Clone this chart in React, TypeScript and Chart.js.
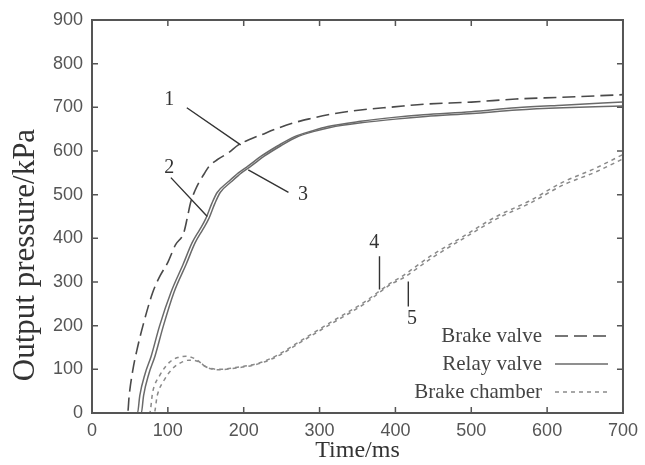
import React, { useEffect, useRef } from "react";
import { Chart, registerables } from "chart.js";

Chart.register(...registerables);

// ---------- data ----------
const brakeValveTime = [0, 47, 49, 54, 60, 67, 80, 90, 100, 110, 121, 126, 130, 136, 141, 148, 154, 165, 180, 193, 210, 223, 245, 267, 290, 311, 354, 398, 437, 500, 559, 620, 700];
const brakeValvePressure = [0, 0, 40, 100, 150, 199, 276, 315, 345, 385, 413, 450, 482, 510, 528, 548, 564, 580, 596, 614, 628, 637, 652, 665, 675, 683, 694, 701, 707, 712, 719, 723, 729];

const relayValve2Time = [0, 60, 63, 70, 78, 89, 104, 120, 132, 142, 150, 158, 165, 180, 193, 206, 223, 245, 267, 290, 311, 354, 398, 437, 500, 559, 620, 700];
const relayValve2Pressure = [0, 0, 40, 90, 130, 199, 276, 340, 390, 420, 445, 480, 505, 530, 550, 566, 588, 612, 633, 646, 656, 668, 677, 683, 690, 699, 705, 712];

const relayValve3Time = [0, 65, 68, 75, 83, 94, 108, 124, 136, 146, 154, 162, 169, 184, 197, 210, 227, 249, 270, 293, 314, 357, 400, 440, 502, 560, 621, 700];
const relayValve3Pressure = [0, 0, 40, 90, 130, 199, 276, 340, 390, 420, 445, 480, 505, 530, 550, 566, 588, 612, 632, 645, 654, 665, 673, 679, 686, 694, 699, 703];

const chamber4Time = [0, 76, 80, 89, 102, 113, 124, 137, 150, 167, 189, 210, 228, 250, 272, 315, 359, 394, 406, 446, 489, 533, 576, 620, 663, 700];
const chamber4Pressure = [0, 0, 48, 85, 116, 127, 130, 123, 106, 100, 104, 110, 119, 138, 162, 208, 254, 298, 310, 359, 404, 450, 485, 528, 560, 592];

const chamber5Time = [0, 82, 86, 95, 107, 118, 128, 140, 152, 168, 190, 211, 229, 251, 273, 316, 360, 395, 408, 448, 490, 534, 577, 621, 664, 700];
const chamber5Pressure = [0, 0, 40, 75, 103, 116, 121, 118, 104, 99, 103, 109, 118, 136, 160, 205, 251, 296, 307, 355, 400, 445, 480, 522, 552, 582];

const legendLabels = ["Brake valve", "Relay valve", "Brake chamber"];
const xTitle = "Time/ms";
const yTitle = "Output pressure/kPa";

// annotation numbers: label position and leader line (data coordinates)
const annotationLabels = ["1", "2", "3", "4", "5"];
const annotationLabelX = [102, 102, 278, 372, 422];
const annotationLabelY = [717, 562, 500, 391, 215];
const annotationFromX = [125, 104, 259, 379, 417];
const annotationFromY = [699, 539, 505, 359, 301];
const annotationToX = [196, 152, 206, 379, 417];
const annotationToY = [614, 450, 557, 283, 244];

const pts = (xs: number[], ys: number[]) => xs.map((x, i) => ({ x, y: ys[i] }));

const SERIF = '"Liberation Serif", "Times New Roman", serif';
const SANS = '"Liberation Sans", Arial, sans-serif';

const styles = [
  { color: "#4a4a4a", dash: [13, 6], width: 1.6 },
  { color: "#6a6a6a", dash: [], width: 1.5 },
  { color: "#8a8a8a", dash: [4, 4], width: 1.5 },
];

const decorPlugin = {
  id: "decor",
  afterDatasetsDraw(chart: any) {
    const { ctx, chartArea: a, scales } = chart;
    const xs = scales.x;
    const ys = scales.y;
    ctx.save();
    // frame
    ctx.strokeStyle = "#555";
    ctx.lineWidth = 2;
    ctx.strokeRect(a.left, a.top, a.right - a.left, a.bottom - a.top);
    // inward ticks on all four sides
    ctx.lineWidth = 1.5;
    ctx.beginPath();
    xs.ticks.forEach((t: any) => {
      const px = xs.getPixelForValue(t.value);
      ctx.moveTo(px, a.bottom);
      ctx.lineTo(px, a.bottom - 6);
      ctx.moveTo(px, a.top);
      ctx.lineTo(px, a.top + 6);
    });
    ys.ticks.forEach((t: any) => {
      const py = ys.getPixelForValue(t.value);
      ctx.moveTo(a.left, py);
      ctx.lineTo(a.left + 6, py);
      ctx.moveTo(a.right, py);
      ctx.lineTo(a.right - 6, py);
    });
    ctx.stroke();

    // annotations
    ctx.strokeStyle = "#333";
    ctx.lineWidth = 1.4;
    ctx.setLineDash([]);
    ctx.beginPath();
    annotationLabels.forEach((_, i) => {
      ctx.moveTo(xs.getPixelForValue(annotationFromX[i]), ys.getPixelForValue(annotationFromY[i]));
      ctx.lineTo(xs.getPixelForValue(annotationToX[i]), ys.getPixelForValue(annotationToY[i]));
    });
    ctx.stroke();
    ctx.fillStyle = "#333";
    ctx.font = `20px ${SERIF}`;
    ctx.textAlign = "center";
    ctx.textBaseline = "middle";
    annotationLabels.forEach((lab, i) => {
      ctx.fillText(lab, xs.getPixelForValue(annotationLabelX[i]), ys.getPixelForValue(annotationLabelY[i]));
    });

    // legend (inside, lower right)
    const rowY = [336, 364, 392];
    ctx.font = `21px ${SERIF}`;
    ctx.textAlign = "right";
    legendLabels.forEach((lab, i) => {
      ctx.fillStyle = "#444";
      ctx.fillText(lab, 542, rowY[i]);
      ctx.strokeStyle = styles[i].color;
      ctx.lineWidth = styles[i].width;
      ctx.setLineDash(styles[i].dash);
      ctx.beginPath();
      ctx.moveTo(555, rowY[i]);
      ctx.lineTo(608, rowY[i]);
      ctx.stroke();
    });
    ctx.setLineDash([]);

    // axis titles
    ctx.fillStyle = "#333";
    ctx.textAlign = "center";
    ctx.textBaseline = "middle";
    ctx.font = `24px ${SERIF}`;
    ctx.fillText(xTitle, (a.left + a.right) / 2, 451);
    ctx.translate(26, 255);
    ctx.rotate(-Math.PI / 2);
    ctx.font = `31px ${SERIF}`;
    ctx.fillText(yTitle, 0, 0);
    ctx.restore();
  },
};

export default function App() {
  const ref = useRef<HTMLCanvasElement | null>(null);
  useEffect(() => {
    if (!ref.current) return;
    const mk = (label: string, data: any, s: any) => ({
      label,
      data,
      borderColor: s.color,
      borderWidth: s.width,
      borderDash: s.dash,
      pointRadius: 0,
      fill: false,
      tension: 0.35,
      cubicInterpolationMode: "monotone" as const,
    });
    const chart = new Chart(ref.current, {
      type: "line",
      data: {
        datasets: [
          mk("Brake valve", pts(brakeValveTime, brakeValvePressure), styles[0]),
          mk("Relay valve", pts(relayValve2Time, relayValve2Pressure), styles[1]),
          mk("Relay valve 3", pts(relayValve3Time, relayValve3Pressure), styles[1]),
          mk("Brake chamber", pts(chamber4Time, chamber4Pressure), styles[2]),
          mk("Brake chamber 5", pts(chamber5Time, chamber5Pressure), styles[2]),
        ],
      },
      options: {
        animation: false,
        responsive: false,
        maintainAspectRatio: false,
        layout: { padding: { left: 0, right: 17, top: 20, bottom: 0 } },
        plugins: { legend: { display: false }, tooltip: { enabled: false } },
        scales: {
          x: {
            type: "linear",
            min: 0,
            max: 700,
            grid: { display: false, drawTicks: false },
            border: { display: false },
            ticks: { stepSize: 100, padding: 7, color: "#555", font: { family: SANS, size: 18 }, maxRotation: 0 },
            afterFit: (s: any) => { s.height = 52; },
          },
          y: {
            type: "linear",
            min: 0,
            max: 900,
            grid: { display: false, drawTicks: false },
            border: { display: false },
            ticks: { stepSize: 100, padding: 9, color: "#555", font: { family: SANS, size: 18 } },
            afterFit: (s: any) => { s.width = 92; },
          },
        },
      },
      plugins: [decorPlugin],
    });
    return () => chart.destroy();
  }, []);
  return (
    <div style={{ position: "fixed", left: 0, top: 0, width: 645, height: 465, background: "#fff" }}>
      <canvas ref={ref} width={645} height={465} style={{ display: "block" }} />
    </div>
  );
}
